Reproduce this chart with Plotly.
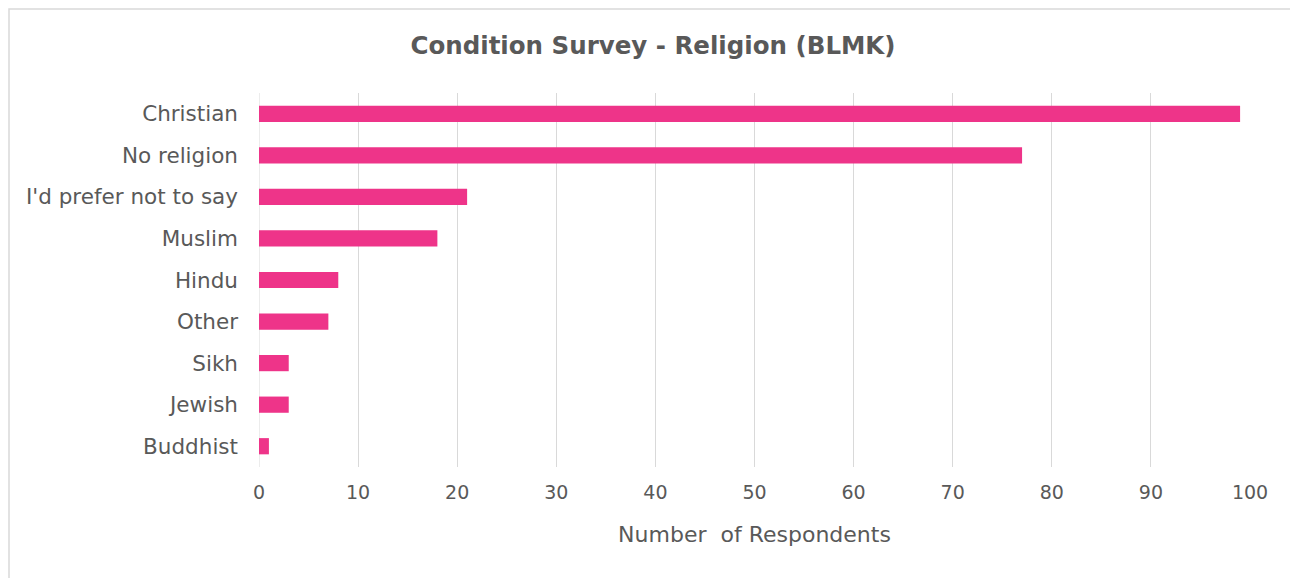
"""Condition survey - religion bar chart."""
import plotly.graph_objects as go

# Data
religions = ["Christian", "No religion", "I'd prefer not to say", "Muslim",
             "Hindu", "Other", "Sikh", "Jewish", "Buddhist"]
respondents = [99, 77, 21, 18, 8, 7, 3, 3, 1]
x_ticks = [0, 10, 20, 30, 40, 50, 60, 70, 80, 90, 100]

FONT = "DejaVu Sans, Verdana, sans-serif"
GREY = "#595959"

# the page body adds an 8px margin, so the figure is a bit smaller
W, H = 1290, 570
PL, PR, PT, PB = 251, 1242, 85, 459  # plot area in figure pixels


def main() -> None:
    fig = go.Figure(
        go.Bar(
            x=respondents,
            y=religions,
            orientation="h",
            marker={"color": "#EE3489", "line": {"width": 0}},
            width=0.39,
        )
    )

    pw, ph = PR - PL, PB - PT
    fig.update_layout(
        width=W,
        height=H,
        margin={"l": PL, "r": W - PR, "t": PT, "b": H - PB},
        paper_bgcolor="white",
        plot_bgcolor="white",
        showlegend=False,
        title={
            "text": "<b>Condition Survey - Religion (BLMK)</b>",
            "x": 0.5,
            "xanchor": "center",
            "y": 1 - 37 / H,
            "yanchor": "middle",
            "font": {"family": FONT, "size": 24.5, "color": GREY},
        },
        font={"family": FONT, "color": GREY},
        xaxis={
            "range": [0, 100],
            "tickvals": x_ticks,
            "showgrid": True,
            "gridcolor": "#D9D9D9",
            "gridwidth": 1,
            "zeroline": False,
            "showline": False,
            "ticks": "",
            "ticklabelstandoff": 12,
            "tickfont": {"size": 19, "color": GREY},
            "title": {
                "text": "Number  of Respondents",
                "font": {"size": 22, "color": GREY},
                "standoff": 24,
            },
        },
        yaxis={
            "autorange": "reversed",
            "showgrid": False,
            "zeroline": False,
            "showline": False,
            "ticks": "",
            "ticklabelstandoff": 20,
            "tickfont": {"size": 21.5, "color": GREY},
        },
        shapes=[
            {
                "type": "rect",
                "xref": "paper",
                "yref": "paper",
                "x0": (1 - PL) / pw,
                "x1": (W - 2 - PL) / pw,
                "y0": (PB - H - 10) / ph,
                "y1": (PB - 1) / ph,
                "line": {"color": "#D9D9D9", "width": 1.5},
                "layer": "below",
            },
            {
                "type": "line",
                "xref": "x",
                "yref": "paper",
                "x0": 0,
                "x1": 0,
                "y0": 0,
                "y1": 1,
                "line": {"color": "#D9D9D9", "width": 1},
                "layer": "below",
            },
        ],
    )

    fig.write_html("out.html")


if __name__ == "__main__":
    main()
